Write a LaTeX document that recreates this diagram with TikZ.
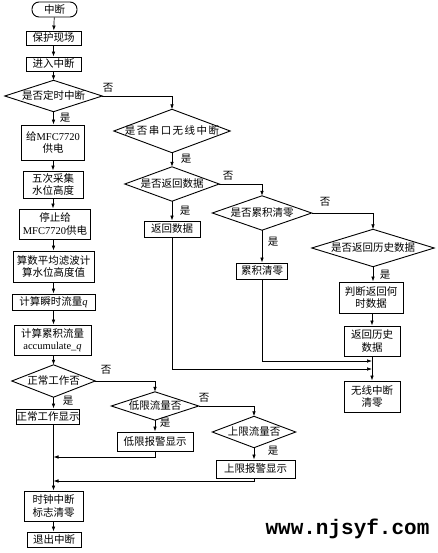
\documentclass[tikz,border=0pt]{standalone}
\usepackage{fontspec}
\setmainfont{Liberation Serif}
\newfontfamily\cjk{Noto Sans CJK SC}
\newfontfamily\cjkwide[LetterSpace=14]{Noto Sans CJK SC}
\newfontfamily\wmfont{Liberation Mono}
\usetikzlibrary{arrows.meta}
\newcommand\lat[1]{{\rmfamily #1}}
\begin{document}
\begin{tikzpicture}[x=1pt,y=-1pt,
  box/.style={draw, line width=0.9pt, inner sep=0pt, align=center, font=\cjk\fontsize{10.5}{12.5}\selectfont},
  dia/.style={inner sep=0pt, align=center, font=\cjk\fontsize{10.5}{12}\selectfont},
  dline/.style={line width=0.9pt},
  arr/.style={-{Latex[length=5pt,width=3.6pt]}, line width=0.7pt},
  lbl/.style={font=\cjk\fontsize{10.5}{11}\selectfont, inner sep=0pt}]
\useasboundingbox (0,0) rectangle (438,553);
% left column
\node[box, rounded corners=7pt, minimum width=45, minimum height=15] (st) at (54.5,9.5) {中断};
\node[box, minimum width=55, minimum height=14] (b1) at (53.5,38) {保护现场};
\node[box, minimum width=55, minimum height=14] (b2) at (53.5,64) {进入中断};
\node[dia, minimum width=97, minimum height=31] (d1) at (53.5,96) {是否定时中断};
\node[box, minimum width=63, minimum height=35] (b3) at (53,142.5) {给\lat{MFC7720}\\供电};
\node[box, minimum width=60, minimum height=27] (b4) at (53,184.5) {五次采集\\水位高度};
\node[box, minimum width=71, minimum height=30] (b5) at (55,224) {停止给\\\lat{MFC7720}供电};
\node[box, minimum width=81, minimum height=31] (b6) at (53.5,266.5) {算数平均滤波计\\算水位高度值};
\node[box, minimum width=83, minimum height=16] (b7) at (53.5,302) {计算瞬时流量\lat{\textit{q}}};
\node[box, minimum width=77, minimum height=30] (b8) at (52.5,340) {计算累积流量\\\lat{accumulate\_\textit{q}}};
\node[dia, minimum width=83, minimum height=32] (d5) at (53.5,381) {正常工作否};
\node[box, minimum width=62, minimum height=15] (bn) at (48,416.5) {正常工作显示};
\node[box, minimum width=59, minimum height=30] (bc) at (53.5,506) {时钟中断\\标志清零};
\node[box, minimum width=54, minimum height=15] (bx) at (54,539.5) {退出中断};
% lower branch
\node[dia, minimum width=87, minimum height=28] (d6) at (155,406) {低限流量否};
\node[box, minimum width=76, minimum height=19] (bl) at (155,441.5) {低限报警显示};
\node[dia, minimum width=83, minimum height=31] (d7) at (254,432) {上限流量否};
\node[box, minimum width=79, minimum height=18] (bu) at (255.5,469) {上限报警显示};
% right column
\node[dia, minimum width=116, minimum height=43, font=\cjkwide\fontsize{10.5}{12}\selectfont] (d2) at (172,131) {是否串口无线中断};
\node[dia, minimum width=94, minimum height=34] (d3) at (172,184) {是否返回数据};
\node[box, minimum width=56, minimum height=16] (br) at (172,229) {返回数据};
\node[dia, minimum width=99, minimum height=34] (d4) at (262,213) {是否累积清零};
\node[box, minimum width=51, minimum height=16] (ba) at (262,271) {累积清零};
\node[dia, minimum width=122, minimum height=37] (d8) at (373,248) {是否返回历史数据};
\node[box, minimum width=64, minimum height=31] (bj) at (371,297.5) {判断返回何\\时数据};
\node[box, minimum width=56, minimum height=30] (bh) at (372,341) {返回历史\\数据};
\node[box, minimum width=56, minimum height=31] (bw) at (372,396.5) {无线中断\\清零};
% diamonds outlines
\foreach \d in {d1,d2,d3,d4,d5,d6,d7,d8}
  \draw[dline] (\d.north) -- (\d.east) -- (\d.south) -- (\d.west) -- cycle;
% coordinates
\coordinate (m1) at (53.5,457);
\coordinate (m2) at (53.5,481);
\coordinate (r1) at (372,361);
\coordinate (r2) at (372,369);
% left connectors
\draw[arr] (st) -- (b1);
\draw[arr] (b1) -- (b2);
\draw[arr] (b2) -- (d1);
\draw[arr] (d1.south) -- (b3.north -| d1.south);
\draw[arr] (b3) -- (b4);
\draw[arr] (b4.south) -- (b5.north -| b4.south);
\draw[arr] (b5.south -| b6.north) -- (b6.north);
\draw[arr] (b6) -- (b7);
\draw[arr] (b7.south) -- (b8.north -| b7.south);
\draw[arr] (b8.south -| d5.north) -- (d5.north);
\draw[arr] (d5.south) -- (bn.north -| d5.south);
\draw[arr] (bn.south -| d5.south) -- (bc.north);
\draw[arr] (bc.south) -- (bx.north -| bc.south);
\draw[arr] (d1.east) -| (d2.north);
\draw[arr] (d5.east) -| (d6.north);
\draw[arr] (d6.south) -- (bl.north);
\draw[arr] (d6.east) -| (d7.north);
\draw[arr] (d7.south) -- (bu.north -| d7.south);
\draw[arr] (bl.south) |- (m1);
\draw[arr] (bu.south -| d7.south) |- (m2);
% right connectors
\draw[arr] (d2.south) -- (d3.north);
\draw[arr] (d3.south) -- (br.north);
\draw[arr] (d3.east) -| (d4.north);
\draw[arr] (d4.south) -- (ba.north);
\draw[arr] (d4.east) -| (d8.north);
\draw[arr] (d8.south) -- (bj.north -| d8.south);
\draw[arr] (bj.south -| bh.north) -- (bh.north);
\draw[arr] (bh.south) -- (bw.north);
\draw[arr] (ba.south) |- (r1);
\draw[arr] (br.south) |- (r2);
% labels
\node[lbl] (l1) at (108,88) {否};
\node[lbl] (l2) at (65,118) {是};
\node[lbl] (l3) at (186,159) {是};
\node[lbl] (l4) at (228,176) {否};
\node[lbl] (l5) at (185,211) {是};
\node[lbl] (l6) at (325,202) {否};
\node[lbl] (l7) at (273,242) {是};
\node[lbl] (l8) at (385,275) {是};
\node[lbl] (l9) at (106,370) {否};
\node[lbl] (l10) at (68,401) {是};
\node[lbl] (l11) at (204,398) {否};
\node[lbl] (l12) at (165,423) {是};
\node[lbl] (l13) at (273,451) {是};
% watermark
\node[font=\wmfont\bfseries\fontsize{21}{21}\selectfont, inner sep=0pt] (wm) at (347.5,529) {www.njsyf.com};
\end{tikzpicture}
\end{document}
